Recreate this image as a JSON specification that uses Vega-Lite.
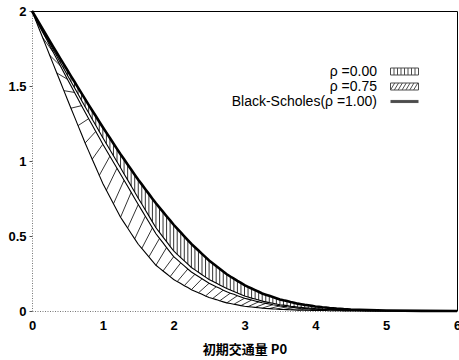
{
  "$schema": "https://vega.github.io/schema/vega-lite/v6.json",
  "width": 425,
  "height": 300,
  "autosize": {"type": "none"},
  "padding": {"left": 32, "top": 11, "right": 2, "bottom": 49},
  "background": "white",
  "config": {"view": {"stroke": null}, "axis": {"grid": false}},
  "datasets": {
    "curves": [
      {"x":0,"bs":2,"a":2,"b":2,"c":2},
      {"x":0.05,"bs":1.960,"a":1.957,"b":1.954,"c":1.941},
      {"x":0.1,"bs":1.920,"a":1.914,"b":1.908,"c":1.882},
      {"x":0.15,"bs":1.880,"a":1.871,"b":1.862,"c":1.823},
      {"x":0.2,"bs":1.840,"a":1.828,"b":1.816,"c":1.764},
      {"x":0.25,"bs":1.800,"a":1.785,"b":1.770,"c":1.705},
      {"x":0.3,"bs":1.761,"a":1.742,"b":1.725,"c":1.646},
      {"x":0.35,"bs":1.722,"a":1.700,"b":1.680,"c":1.587},
      {"x":0.4,"bs":1.683,"a":1.657,"b":1.635,"c":1.528},
      {"x":0.45,"bs":1.644,"a":1.615,"b":1.590,"c":1.469},
      {"x":0.5,"bs":1.605,"a":1.572,"b":1.545,"c":1.410},
      {"x":0.55,"bs":1.566,"a":1.530,"b":1.501,"c":1.352},
      {"x":0.6,"bs":1.528,"a":1.488,"b":1.457,"c":1.294},
      {"x":0.65,"bs":1.489,"a":1.446,"b":1.413,"c":1.236},
      {"x":0.7,"bs":1.451,"a":1.404,"b":1.369,"c":1.178},
      {"x":0.75,"bs":1.412,"a":1.362,"b":1.325,"c":1.120},
      {"x":0.8,"bs":1.374,"a":1.321,"b":1.282,"c":1.066},
      {"x":0.85,"bs":1.337,"a":1.279,"b":1.240,"c":1.012},
      {"x":0.9,"bs":1.300,"a":1.238,"b":1.197,"c":0.958},
      {"x":0.95,"bs":1.262,"a":1.196,"b":1.155,"c":0.904},
      {"x":1.0,"bs":1.225,"a":1.155,"b":1.112,"c":0.850},
      {"x":1.05,"bs":1.189,"a":1.115,"b":1.072,"c":0.805},
      {"x":1.1,"bs":1.153,"a":1.075,"b":1.032,"c":0.760},
      {"x":1.15,"bs":1.117,"a":1.035,"b":0.992,"c":0.715},
      {"x":1.2,"bs":1.081,"a":0.995,"b":0.952,"c":0.670},
      {"x":1.25,"bs":1.045,"a":0.955,"b":0.912,"c":0.625},
      {"x":1.3,"bs":1.011,"a":0.914,"b":0.872,"c":0.589},
      {"x":1.35,"bs":0.977,"a":0.874,"b":0.831,"c":0.553},
      {"x":1.4,"bs":0.943,"a":0.833,"b":0.791,"c":0.517},
      {"x":1.45,"bs":0.909,"a":0.793,"b":0.750,"c":0.481},
      {"x":1.5,"bs":0.875,"a":0.752,"b":0.710,"c":0.445},
      {"x":1.55,"bs":0.844,"a":0.713,"b":0.671,"c":0.417},
      {"x":1.6,"bs":0.812,"a":0.673,"b":0.632,"c":0.389},
      {"x":1.65,"bs":0.781,"a":0.634,"b":0.593,"c":0.361},
      {"x":1.7,"bs":0.749,"a":0.594,"b":0.554,"c":0.333},
      {"x":1.75,"bs":0.718,"a":0.555,"b":0.515,"c":0.305},
      {"x":1.8,"bs":0.689,"a":0.524,"b":0.484,"c":0.286},
      {"x":1.85,"bs":0.661,"a":0.493,"b":0.454,"c":0.267},
      {"x":1.9,"bs":0.632,"a":0.462,"b":0.423,"c":0.248},
      {"x":1.95,"bs":0.604,"a":0.431,"b":0.393,"c":0.229},
      {"x":2.0,"bs":0.575,"a":0.400,"b":0.362,"c":0.210},
      {"x":2.05,"bs":0.549,"a":0.378,"b":0.342,"c":0.196},
      {"x":2.1,"bs":0.524,"a":0.356,"b":0.321,"c":0.183},
      {"x":2.15,"bs":0.498,"a":0.334,"b":0.301,"c":0.169},
      {"x":2.2,"bs":0.473,"a":0.312,"b":0.280,"c":0.156},
      {"x":2.25,"bs":0.447,"a":0.290,"b":0.260,"c":0.142},
      {"x":2.3,"bs":0.425,"a":0.274,"b":0.245,"c":0.132},
      {"x":2.35,"bs":0.403,"a":0.258,"b":0.230,"c":0.121},
      {"x":2.4,"bs":0.381,"a":0.242,"b":0.215,"c":0.111},
      {"x":2.45,"bs":0.359,"a":0.226,"b":0.200,"c":0.100},
      {"x":2.5,"bs":0.337,"a":0.210,"b":0.185,"c":0.090},
      {"x":2.55,"bs":0.319,"a":0.198,"b":0.174,"c":0.083},
      {"x":2.6,"bs":0.300,"a":0.186,"b":0.162,"c":0.076},
      {"x":2.65,"bs":0.282,"a":0.174,"b":0.151,"c":0.068},
      {"x":2.7,"bs":0.263,"a":0.162,"b":0.139,"c":0.061},
      {"x":2.75,"bs":0.245,"a":0.150,"b":0.128,"c":0.054},
      {"x":2.8,"bs":0.230,"a":0.140,"b":0.119,"c":0.050},
      {"x":2.85,"bs":0.216,"a":0.130,"b":0.111,"c":0.045},
      {"x":2.9,"bs":0.201,"a":0.120,"b":0.102,"c":0.041},
      {"x":2.95,"bs":0.187,"a":0.110,"b":0.094,"c":0.036},
      {"x":3.0,"bs":0.172,"a":0.100,"b":0.085,"c":0.032},
      {"x":3.05,"bs":0.161,"a":0.093,"b":0.079,"c":0.029},
      {"x":3.1,"bs":0.150,"a":0.086,"b":0.073,"c":0.027},
      {"x":3.15,"bs":0.139,"a":0.080,"b":0.067,"c":0.024},
      {"x":3.2,"bs":0.128,"a":0.073,"b":0.061,"c":0.022},
      {"x":3.25,"bs":0.117,"a":0.066,"b":0.055,"c":0.019},
      {"x":3.3,"bs":0.109,"a":0.061,"b":0.051,"c":0.017},
      {"x":3.35,"bs":0.101,"a":0.056,"b":0.047,"c":0.016},
      {"x":3.4,"bs":0.093,"a":0.052,"b":0.042,"c":0.014},
      {"x":3.45,"bs":0.085,"a":0.047,"b":0.038,"c":0.013},
      {"x":3.5,"bs":0.077,"a":0.042,"b":0.034,"c":0.011},
      {"x":3.55,"bs":0.071,"a":0.039,"b":0.031,"c":0.010},
      {"x":3.6,"bs":0.066,"a":0.036,"b":0.028,"c":0.009},
      {"x":3.65,"bs":0.060,"a":0.032,"b":0.026,"c":0.008},
      {"x":3.7,"bs":0.055,"a":0.029,"b":0.023,"c":0.007},
      {"x":3.75,"bs":0.049,"a":0.026,"b":0.020,"c":0.006},
      {"x":3.8,"bs":0.045,"a":0.024,"b":0.018,"c":0.0055},
      {"x":3.85,"bs":0.041,"a":0.022,"b":0.017,"c":0.005},
      {"x":3.9,"bs":0.038,"a":0.020,"b":0.015,"c":0.0045},
      {"x":3.95,"bs":0.034,"a":0.018,"b":0.014,"c":0.004},
      {"x":4.0,"bs":0.030,"a":0.016,"b":0.012,"c":0.0035},
      {"x":4.05,"bs":0.028,"a":0.015,"b":0.011,"c":0.003},
      {"x":4.1,"bs":0.025,"a":0.013,"b":0.010,"c":0.003},
      {"x":4.15,"bs":0.023,"a":0.012,"b":0.009,"c":0.003},
      {"x":4.2,"bs":0.020,"a":0.010,"b":0.008,"c":0.002},
      {"x":4.25,"bs":0.018,"a":0.009,"b":0.007,"c":0.002},
      {"x":4.3,"bs":0.016,"a":0.008,"b":0.006,"c":0.002},
      {"x":4.35,"bs":0.015,"a":0.007,"b":0.006,"c":0.002},
      {"x":4.4,"bs":0.013,"a":0.007,"b":0.005,"c":0.001},
      {"x":4.45,"bs":0.012,"a":0.006,"b":0.005,"c":0.001},
      {"x":4.5,"bs":0.010,"a":0.005,"b":0.004,"c":0.001},
      {"x":4.75,"bs":0.006,"a":0.003,"b":0.002,"c":0.0005},
      {"x":5.0,"bs":0.003,"a":0.0015,"b":0.001,"c":0.0003},
      {"x":5.5,"bs":0.001,"a":0.0004,"b":0.0003,"c":0.0001},
      {"x":6.0,"bs":0,"a":0,"b":0,"c":0}
    ],
    "legend": [
      {"s": "ρ =0.00"},
      {"s": "ρ =0.75"},
      {"s": "Black-Scholes(ρ =1.00)"}
    ]
  },
  "resolve": {"axis": {"x": "independent", "y": "independent"}},
  "layer": [
    {
      "data": {"name": "curves"},
      "transform": [{"filter": "datum.x > 0 && datum.x <= 4.5"}],
      "mark": {"type": "rule", "stroke": "black", "strokeWidth": 0.8},
      "encoding": {
        "x": {"field": "x", "type": "quantitative",
          "scale": {"domain": [0, 6], "nice": false, "zero": false},
          "axis": {"orient": "bottom", "values": [0,1,2,3,4,5,6], "format": "d",
            "domainColor": "#777", "domainDash": [1, 1.5], "domainWidth": 1,
            "ticks": false, "labelPadding": 8, "labelFont": "Liberation Sans",
            "labelFontWeight": "bold", "labelFontSize": 13, "labelColor": "black",
            "labelFlush": false, "title": "初期交通量 P0", "titleFont": "Noto Sans CJK JP",
            "titleFontSize": 13, "titleFontWeight": "bold", "titleColor": "black", "titlePadding": 11}},
        "y": {"field": "a", "type": "quantitative",
          "scale": {"domain": [0, 2], "nice": false},
          "axis": {"orient": "left", "values": [0, 0.5, 1, 1.5, 2], "format": "~g",
            "domainColor": "#777", "domainDash": [1, 1.5], "domainWidth": 1,
            "tickSize": 3, "tickColor": "#555", "labelPadding": 3,
            "labelFont": "Liberation Sans", "labelFontWeight": "bold", "labelFontSize": 13,
            "labelColor": "black", "title": null}},
        "y2": {"field": "bs"}
      }
    },
    {
      "data": {"name": "curves"},
      "transform": [
        {"window": [
          {"op": "lead", "field": "x", "param": 3, "as": "x2"},
          {"op": "lead", "field": "b", "param": 3, "as": "b2"},
          {"op": "row_number", "as": "rn"}],
         "sort": [{"field": "x", "order": "ascending"}]},
        {"filter": "datum.rn % 2 == 0 && datum.x <= 4"}
      ],
      "mark": {"type": "rule", "stroke": "black", "strokeWidth": 0.8},
      "encoding": {
        "x": {"field": "x", "type": "quantitative", "axis": null},
        "x2": {"field": "x2"},
        "y": {"field": "c", "type": "quantitative", "axis": null},
        "y2": {"field": "b2"}
      }
    },
    {
      "data": {"name": "curves"},
      "transform": [{"fold": ["a", "b", "c"], "as": ["curve", "v"]}],
      "mark": {"type": "line", "stroke": "black", "strokeWidth": 1.1},
      "encoding": {
        "x": {"field": "x", "type": "quantitative", "axis": null},
        "y": {"field": "v", "type": "quantitative", "axis": null},
        "detail": {"field": "curve", "type": "nominal"}
      }
    },
    {
      "data": {"name": "curves"},
      "mark": {"type": "line", "stroke": "black", "strokeWidth": 2.6},
      "encoding": {
        "x": {"field": "x", "type": "quantitative",
          "axis": {"orient": "top", "labels": false, "ticks": false, "domainColor": "black", "domainWidth": 1, "title": null}},
        "y": {"field": "bs", "type": "quantitative",
          "axis": {"orient": "right", "labels": false, "ticks": false, "domainColor": "black", "domainWidth": 1, "title": null}}
      }
    },
    {
      "data": {"name": "legend"},
      "transform": [{"filter": "datum.s == 'none'"}],
      "mark": {"type": "point", "color": "black", "filled": false},
      "encoding": {
        "shape": {"field": "s", "type": "nominal",
          "scale": {"domain": ["ρ =0.00", "ρ =0.75", "Black-Scholes(ρ =1.00)"],
            "range": [
              "M-2,-0.5H2V0.5H-2ZM-1.5,-0.5V0.5M-1,-0.5V0.5M-0.5,-0.5V0.5M0,-0.5V0.5M0.5,-0.5V0.5M1,-0.5V0.5M1.5,-0.5V0.5",
              "M-2,-0.5H2V0.5H-2ZM-2,0.5L-1.4,-0.5M-1.45,0.5L-0.85,-0.5M-0.9,0.5L-0.3,-0.5M-0.35,0.5L0.25,-0.5M0.2,0.5L0.8,-0.5M0.75,0.5L1.35,-0.5M1.3,0.5L1.9,-0.5",
              "M-2,-0.15H2M-2,0H2M-2,0.15H2"
            ]},
          "legend": {"orient": "none", "legendX": 365, "legendY": 53, "title": null,
            "labelAlign": "right", "labelOffset": -35, "symbolSize": 196,
            "symbolStrokeColor": "black", "symbolStrokeWidth": 1,
            "labelFont": "Liberation Sans", "labelFontSize": 14, "labelColor": "black",
            "rowPadding": 0, "padding": 0}}
      }
    }
  ]
}
